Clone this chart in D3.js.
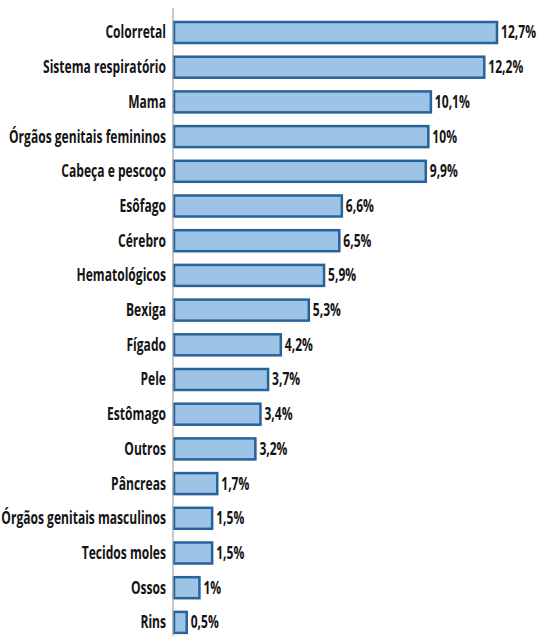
<!DOCTYPE html>
<html>
<head>
<meta charset="utf-8">
<script src="https://cdn.jsdelivr.net/npm/d3@7"></script>
<style>
  html, body { margin: 0; padding: 0; background: #fff; }
  svg { display: block; }
  .lbl { font-family: "Open Sans", "DejaVu Sans Condensed", sans-serif; font-weight: bold; font-size: 17px; fill: #141414; }
</style>
</head>
<body>
<svg id="chart" width="537" height="636"></svg>
<script>
// Cancer types, ordered from most to least frequent
const categories = [
  "Colorretal", "Sistema respiratório", "Mama", "Órgãos genitais femininos",
  "Cabeça e pescoço", "Esôfago", "Cérebro", "Hematológicos", "Bexiga",
  "Fígado", "Pele", "Estômago", "Outros", "Pâncreas",
  "Órgãos genitais masculinos", "Tecidos moles", "Ossos", "Rins"
];
// Share of cases (%)
const values = [12.7, 12.2, 10.1, 10, 9.9, 6.6, 6.5, 5.9, 5.3, 4.2, 3.7, 3.4, 3.2, 1.7, 1.5, 1.5, 1, 0.5];
// Value labels as printed next to each bar
const valueLabels = ["12,7%", "12,2%", "10,1%", "10%", "9,9%", "6,6%", "6,5%", "5,9%", "5,3%",
  "4,2%", "3,7%", "3,4%", "3,2%", "1,7%", "1,5%", "1,5%", "1%", "0,5%"];

const data = categories.map((c, i) => ({ cat: c, v: values[i], label: valueLabels[i] }));

const svg = d3.select("#chart");
const x0 = 174;
const squeeze = 0.71; // narrow the bold face horizontally

const x = d3.scaleLinear().domain([0, 12.7]).range([x0, 497]);
const y = d3.scaleBand().domain(categories).range([21, 21 + 17 * 34.7 + 23]).paddingInner(0.337).paddingOuter(0);

// bars
svg.append("g").selectAll("rect").data(data).join("rect")
  .attr("x", x(0))
  .attr("y", d => y(d.cat) + 1)
  .attr("width", d => x(d.v) - x(0))
  .attr("height", y.bandwidth() - 2)
  .attr("fill", "#9dc3e6")
  .attr("stroke", "#27639a")
  .attr("stroke-width", 2.5);

// vertical category axis line
const axis = d3.axisLeft(y).tickSize(0).tickFormat("");
const gAxis = svg.append("g").attr("transform", `translate(${x0 - 1},0)`).call(axis);
gAxis.select(".domain").attr("d", "M0,8V636").attr("stroke", "#a6a6a6").attr("stroke-width", 1.2);

// category labels
svg.append("g").selectAll("text").data(data).join("text")
  .attr("class", "lbl")
  .attr("text-anchor", "end")
  .attr("transform", d => `translate(${x0 - 8},${y(d.cat) + y.bandwidth() / 2}) scale(${squeeze},1)`)
  .attr("dy", "0.35em")
  .text(d => d.cat);

// value labels
svg.append("g").selectAll("text").data(data).join("text")
  .attr("class", "lbl")
  .attr("transform", d => `translate(${x(d.v) + 4},${y(d.cat) + y.bandwidth() / 2}) scale(${squeeze},1)`)
  .attr("dy", "0.35em")
  .text(d => d.label);
</script>
</body>
</html>
